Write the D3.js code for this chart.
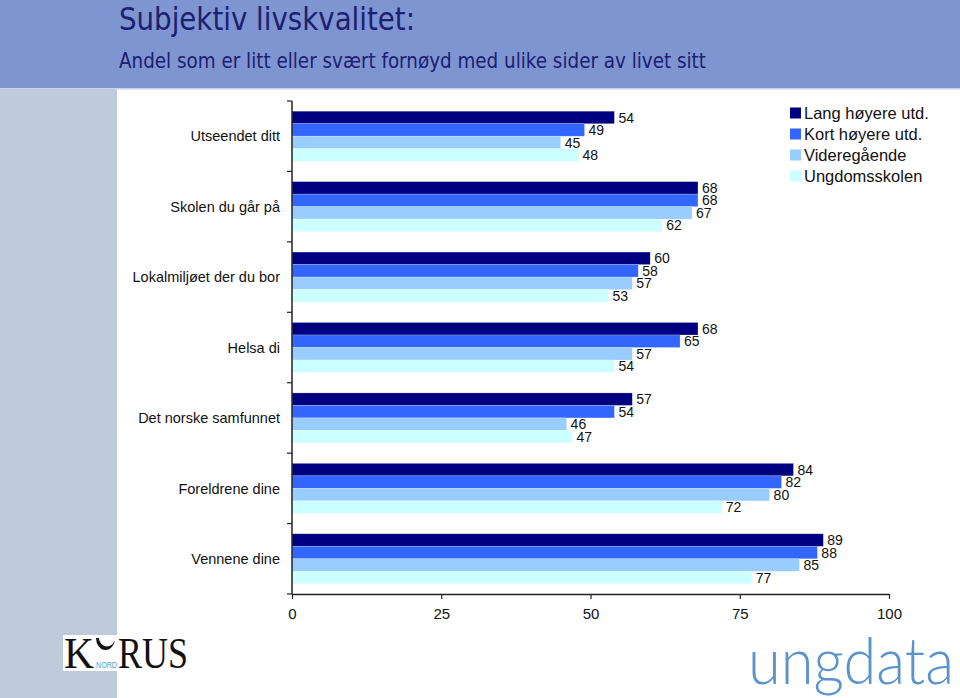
<!DOCTYPE html>
<html><head><meta charset="utf-8">
<script src="https://cdn.jsdelivr.net/npm/d3@7"></script>
<style>body{margin:0;background:#fff}svg{display:block}</style>
</head><body>
<svg id="c" width="960" height="698"></svg>
<script>
const categories = ["Utseendet ditt","Skolen du går på","Lokalmiljøet der du bor","Helsa di","Det norske samfunnet","Foreldrene dine","Vennene dine"];
const seriesNames = ["Lang høyere utd.","Kort høyere utd.","Videregående","Ungdomsskolen"];
const langHoyere = [54,68,60,68,57,84,89];
const kortHoyere = [49,68,58,65,54,82,88];
const videregaende = [45,67,57,57,46,80,85];
const ungdomsskolen = [48,62,53,54,47,72,77];
const xTicks = [0,25,50,75,100];
const colors = ["#000080","#3366ff","#99ccff","#ccffff"];
const seriesValues = [langHoyere,kortHoyere,videregaende,ungdomsskolen];

const svg = d3.select("#c");
// background panels
svg.append("rect").attr("x",0).attr("y",0).attr("width",960).attr("height",88).attr("fill","#7f95d1");
svg.append("rect").attr("x",0).attr("y",88).attr("width",960).attr("height",1.5).attr("fill","#c8d2ea");
svg.append("rect").attr("x",0).attr("y",89).attr("width",117).attr("height",609).attr("fill","#bfcadb");

const verd = "'DejaVu Sans',Verdana,sans-serif";
svg.append("text").attr("x",119).attr("y",30).attr("font-family",verd).attr("font-size",32)
  .attr("fill","#1c2070").attr("textLength",296).attr("lengthAdjust","spacingAndGlyphs").text("Subjektiv livskvalitet:");
svg.append("text").attr("x",119).attr("y",68).attr("font-family",verd).attr("font-size",22)
  .attr("fill","#1c2070").attr("textLength",587).attr("lengthAdjust","spacingAndGlyphs").text("Andel som er litt eller svært fornøyd med ulike sider av livet sitt");

const x = d3.scaleLinear().domain([0,100]).range([292,889]);
const y = d3.scaleBand().domain(categories).range([101,594]).padding(0);
const ySub = d3.scaleBand().domain(seriesNames).range([y.bandwidth()*0.145, y.bandwidth()*0.855]).padding(0);

const font = "'Liberation Sans',Arial,sans-serif";
const g = svg.append("g");
categories.forEach((cat,i)=>{
  const gg = g.append("g").attr("transform",`translate(0,${y(cat)})`);
  seriesNames.forEach((s,j)=>{
    const v = seriesValues[j][i];
    gg.append("rect").attr("x",x(0)).attr("y",ySub(s)).attr("width",x(v)-x(0)).attr("height",ySub.bandwidth())
      .attr("fill",colors[j]).attr("stroke","rgba(255,255,255,0.35)").attr("stroke-width",0.6);
    gg.append("text").attr("x",x(v)+4).attr("y",ySub(s)+ySub.bandwidth()/2).attr("dy","0.36em")
      .attr("font-family",font).attr("font-size",14).attr("fill","#111").text(v);
  });
  svg.append("text").attr("x",280).attr("y",y(cat)+y.bandwidth()/2).attr("dy","0.36em")
    .attr("text-anchor","end").attr("font-family",font).attr("font-size",14.5).attr("fill","#111").text(cat);
});

// y axis
const yAxis = svg.append("g");
yAxis.append("line").attr("x1",x(0)).attr("x2",x(0)).attr("y1",101).attr("y2",594).attr("stroke","#222").attr("stroke-width",1.5);
const bounds = categories.map(c=>y(c)).concat([y.range()[1]]);
bounds.forEach(b=>{
  yAxis.append("line").attr("x1",x(0)-5).attr("x2",x(0)).attr("y1",b).attr("y2",b).attr("stroke","#222").attr("stroke-width",1.2);
});
// x axis
const xa = svg.append("g").attr("transform","translate(0,594)")
  .call(d3.axisBottom(x).tickValues(xTicks).tickSize(5).tickPadding(9).tickSizeOuter(0));
xa.select(".domain").attr("stroke","#222").attr("stroke-width",1.5);
xa.selectAll(".tick line").attr("stroke","#222").attr("stroke-width",1.2);
xa.selectAll(".tick text").attr("font-family",font).attr("font-size",15).attr("fill","#111");

// legend
const lg = svg.append("g");
seriesNames.forEach((s,j)=>{
  const yy = 113 + j*21;
  lg.append("rect").attr("x",790).attr("y",yy-5.5).attr("width",11).attr("height",11).attr("fill",colors[j]);
  lg.append("text").attr("x",804).attr("y",yy).attr("dy","0.36em").attr("font-family",font).attr("font-size",16.5).attr("fill","#111").text(s);
});

// KORUS logo
svg.append("rect").attr("x",63).attr("y",635).attr("width",54).attr("height",36).attr("fill","#fff");
const serif = "'Liberation Serif','DejaVu Serif',serif";
svg.append("text").attr("x",64).attr("y",668).attr("font-family",serif).attr("font-size",45).attr("fill","#111")
  .attr("textLength",30).attr("lengthAdjust","spacingAndGlyphs").text("K");
svg.append("path").attr("d","M 96 638 A 9.5 12 0 0 0 115 638 A 8 8.5 0 0 1 99 638 Z").attr("fill","#111");
svg.append("text").attr("x",96).attr("y",668).attr("font-family",font).attr("font-size",9).attr("fill","#4a9fc8")
  .attr("textLength",21).attr("lengthAdjust","spacingAndGlyphs").text("NORD");
svg.append("text").attr("x",118).attr("y",668).attr("font-family",serif).attr("font-size",45).attr("fill","#111")
  .attr("textLength",70).attr("lengthAdjust","spacingAndGlyphs").text("RUS");

// ungdata logo
svg.append("text").attr("x",748).attr("y",684).attr("font-family","Lato,Roboto,sans-serif").attr("font-weight",300)
  .attr("font-size",66).attr("fill","#5b93cc").attr("textLength",206).attr("lengthAdjust","spacingAndGlyphs").text("ungdata");
</script>
</body></html>
